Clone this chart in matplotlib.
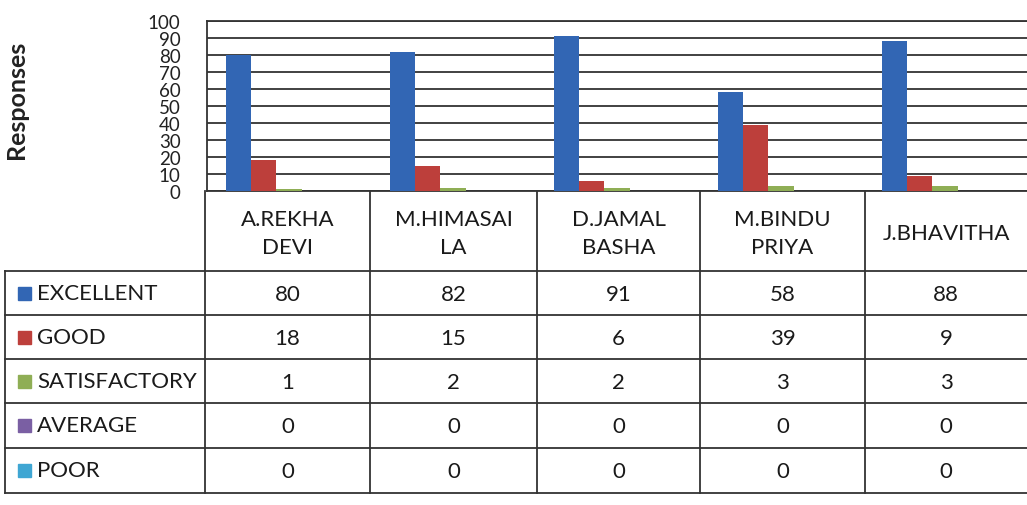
import matplotlib
matplotlib.use("Agg")
import matplotlib.pyplot as plt
from matplotlib.patches import Rectangle
import numpy as np

categories = ["A.REKHA\nDEVI", "M.HIMASAI\nLA", "D.JAMAL\nBASHA", "M.BINDU\nPRIYA", "J.BHAVITHA"]
series_names = ["EXCELLENT", "GOOD", "SATISFACTORY", "AVERAGE", "POOR"]
excellent = [80, 82, 91, 58, 88]
good = [18, 15, 6, 39, 9]
satisfactory = [1, 2, 2, 3, 3]
average = [0, 0, 0, 0, 0]
poor = [0, 0, 0, 0, 0]
y_ticks = [0, 10, 20, 30, 40, 50, 60, 70, 80, 90, 100]

series = [excellent, good, satisfactory, average, poor]
colors = ["#3266B4", "#BD3F3B", "#8FAE55", "#7A5FA3", "#3FA6D3"]

plt.rcParams['font.family'] = ['Lato', 'DejaVu Sans']
W, H = 1027, 506
fig = plt.figure(figsize=(W / 100, H / 100), dpi=100)
fig.patch.set_facecolor("white")

# pixel geometry
ax_left, ax_right = 207, 1027
ax_top, ax_bot = 22, 192
ax = fig.add_axes([ax_left / W, 1 - ax_bot / H, (ax_right - ax_left) / W, (ax_bot - ax_top) / H])

n = len(series)
x = np.arange(len(categories))
bw = 1 / (n + 1.5)
for k, (vals, c) in enumerate(zip(series, colors)):
    ax.bar(x + (k - (n - 1) / 2) * bw, vals, width=bw, color=c, zorder=3)

ax.set_xlim(-0.5, len(categories) - 0.5)
ax.set_ylim(0, 100)
ax.set_yticks(y_ticks)
ax.set_yticklabels([str(v) for v in y_ticks], fontsize=13.5, color="#222222")
ax.tick_params(axis='y', length=0, pad=19)
ax.set_xticks([])
ax.yaxis.grid(True, color="#333333", linewidth=1.3, zorder=0)
for s in ax.spines.values():
    s.set_color("#333333")
    s.set_linewidth(1.3)
ax.spines['right'].set_visible(False)

# data table overlay
tab = fig.add_axes([0, 0, 1, 1], zorder=-1)
tab.set_xlim(0, W)
tab.set_ylim(H, 0)
tab.axis("off")

tab.text(17, 100, "Responses", rotation=90, ha="center", va="center",
         fontsize=18, fontweight="bold", color="#222222")

col_x = [205, 370, 537, 700, 865, 1027]
row_y = [272, 316, 360, 404, 449, 494]
lc = "#333333"
lw = 1.3

for yy in row_y:
    tab.plot([5, W], [yy, yy], color=lc, lw=lw)
tab.plot([5, 5], [row_y[0], row_y[-1]], color=lc, lw=lw)
for xx in col_x[:-1]:
    tab.plot([xx, xx], [ax_bot, row_y[-1]], color=lc, lw=lw)

txt_color = "#1a1a1a"
fs = 16
for i, cat in enumerate(categories):
    cx = (col_x[i] + col_x[i + 1]) / 2
    tab.text(cx, (ax_bot + row_y[0]) / 2 + 2, cat, ha="center", va="center",
             fontsize=fs, color=txt_color, linespacing=1.5)

for r, (name, vals, c) in enumerate(zip(series_names, series, colors)):
    cy = (row_y[r] + row_y[r + 1]) / 2
    tab.add_patch(Rectangle((18, cy - 6.5), 13, 13, color=c))
    tab.text(37, cy, name, ha="left", va="center", fontsize=fs, color=txt_color)
    for i, v in enumerate(vals):
        cx = (col_x[i] + col_x[i + 1]) / 2
        tab.text(cx, cy + 1, str(v), ha="center", va="center", fontsize=fs, color=txt_color)

fig.savefig("out.png", dpi=100, facecolor="white")
